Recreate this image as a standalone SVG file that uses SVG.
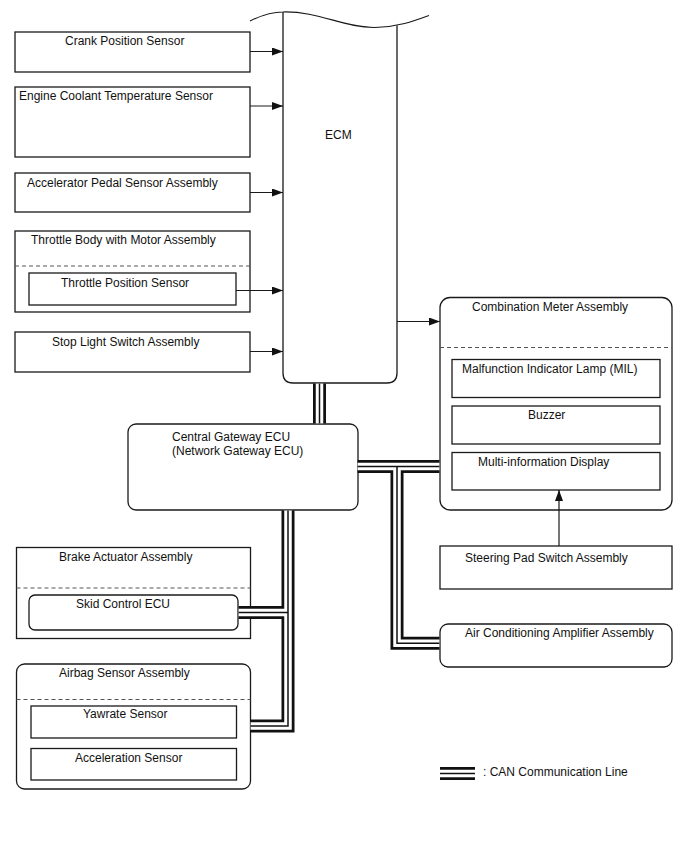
<svg xmlns="http://www.w3.org/2000/svg" width="688" height="852" viewBox="0 0 688 852">
<style>
.bx{fill:none;stroke:#1a1a1a;stroke-width:1.3}
.ds{fill:none;stroke:#555;stroke-width:1;stroke-dasharray:4,3}
.ln{fill:none;stroke:#1a1a1a;stroke-width:1.2}
.t{font-family:"Liberation Sans",Arial,sans-serif;font-size:12px;fill:#111}
.cb{fill:none;stroke:#111;stroke-width:13;stroke-linejoin:miter}
.cw{fill:none;stroke:#fff;stroke-width:7.5;stroke-linejoin:miter}
.cc{fill:none;stroke:#111;stroke-width:1.5;stroke-linejoin:miter}
</style>
<defs>
<marker id="ar" markerUnits="userSpaceOnUse" markerWidth="11" markerHeight="8" refX="11" refY="4" orient="auto">
<path d="M0,0 L11,4 L0,8 z" fill="#111"/>
</marker>
<path id="b1" d="M319.5,383.6 V423.4"/>
<path id="b2" d="M357.6,466.5 H439.4"/>
<path id="b3" d="M397,466.5 V643.3 H439.4"/>
<path id="b4" d="M288,510.6 V726 H250.6"/>
<path id="b5" d="M288,612.5 H238.6"/>
<path id="bl" d="M440,773.5 H475"/>
</defs>

<g id="ecm">
<path class="ln" d="M250,21 C262,15 272,12 283,12 C318,11 345,28 375,27.5 C398,27 414,21 429,15.5"/>
<path class="bx" d="M283,12 V373 Q283,383 293,383 H387 Q397,383 397,373 V25.5"/>
<text class="t" x="325" y="139">ECM</text>
</g>

<g id="crank">
<rect class="bx" x="15" y="32" width="235" height="40"/>
<text class="t" x="65" y="45">Crank Position Sensor</text>
</g>
<g id="coolant">
<rect class="bx" x="15" y="87" width="235" height="70"/>
<text class="t" x="19" y="100">Engine Coolant Temperature Sensor</text>
</g>
<g id="accel-pedal">
<rect class="bx" x="15" y="173" width="235" height="39"/>
<text class="t" x="27" y="187">Accelerator Pedal Sensor Assembly</text>
</g>
<g id="throttle-body">
<rect class="bx" x="15" y="231" width="235" height="81"/>
<line class="ds" x1="15" y1="266" x2="250" y2="266"/>
<text class="t" x="31" y="244">Throttle Body with Motor Assembly</text>
<g id="throttle-pos">
<rect class="bx" x="29" y="273" width="207" height="32"/>
<text class="t" x="61" y="287">Throttle Position Sensor</text>
</g>
</g>
<g id="stop-light">
<rect class="bx" x="15" y="332" width="235" height="40"/>
<text class="t" x="52" y="346">Stop Light Switch Assembly</text>
</g>

<g id="combo-meter">
<rect class="bx" x="440" y="297.5" width="232" height="212.5" rx="10"/>
<line class="ds" x1="440" y1="347.5" x2="672" y2="347.5"/>
<text class="t" x="472" y="311">Combination Meter Assembly</text>
<g id="mil">
<rect class="bx" x="452" y="359.5" width="208" height="38"/>
<text class="t" x="462" y="373">Malfunction Indicator Lamp (MIL)</text>
</g>
<g id="buzzer">
<rect class="bx" x="452" y="406" width="208" height="38"/>
<text class="t" x="528" y="419">Buzzer</text>
</g>
<g id="mid">
<rect class="bx" x="452" y="452.5" width="208" height="37.5"/>
<text class="t" x="478" y="466">Multi-information Display</text>
</g>
</g>

<g id="steering">
<rect class="bx" x="440" y="546" width="232" height="43"/>
<text class="t" x="465" y="562">Steering Pad Switch Assembly</text>
</g>
<g id="ac-amp">
<rect class="bx" x="440" y="624" width="232" height="43" rx="8"/>
<text class="t" x="465" y="637">Air Conditioning Amplifier Assembly</text>
</g>

<g id="gateway">
<rect class="bx" x="128" y="424" width="230" height="86" rx="8"/>
<text class="t" x="172" y="441">Central Gateway ECU</text>
<text class="t" x="172" y="455">(Network Gateway ECU)</text>
</g>

<g id="brake">
<rect class="bx" x="16.5" y="547.5" width="234" height="91"/>
<line class="ds" x1="16.5" y1="588" x2="250.5" y2="588"/>
<text class="t" x="59" y="561">Brake Actuator Assembly</text>
<g id="skid">
<rect class="bx" x="29" y="595" width="209" height="35" rx="6"/>
<text class="t" x="76" y="608">Skid Control ECU</text>
</g>
</g>

<g id="airbag">
<rect class="bx" x="16.5" y="664" width="234" height="125" rx="8"/>
<line class="ds" x1="16.5" y1="699.5" x2="250.5" y2="699.5"/>
<text class="t" x="59" y="677">Airbag Sensor Assembly</text>
<g id="yawrate">
<rect class="bx" x="31" y="706" width="205.5" height="32"/>
<text class="t" x="83" y="718">Yawrate Sensor</text>
</g>
<g id="accel-sensor">
<rect class="bx" x="31" y="748.5" width="205.5" height="31.5"/>
<text class="t" x="75" y="762">Acceleration Sensor</text>
</g>
</g>

<g id="connectors">
<line class="ln" x1="250" y1="51.5" x2="283" y2="51.5" marker-end="url(#ar)"/>
<line class="ln" x1="250" y1="106" x2="283" y2="106" marker-end="url(#ar)"/>
<line class="ln" x1="250" y1="192.5" x2="283" y2="192.5" marker-end="url(#ar)"/>
<line class="ln" x1="236" y1="290.5" x2="283" y2="290.5" marker-end="url(#ar)"/>
<line class="ln" x1="250" y1="351.5" x2="283" y2="351.5" marker-end="url(#ar)"/>
<line class="ln" x1="397" y1="321.5" x2="440" y2="321.5" marker-end="url(#ar)"/>
<line class="ln" x1="559" y1="546" x2="559" y2="490" marker-end="url(#ar)"/>
<g id="can-bus">
<use href="#b1" class="cb"/><use href="#b2" class="cb"/><use href="#b3" class="cb"/><use href="#b4" class="cb"/><use href="#b5" class="cb"/>
<use href="#b1" class="cw"/><use href="#b2" class="cw"/><use href="#b3" class="cw"/><use href="#b4" class="cw"/><use href="#b5" class="cw"/>
<use href="#b1" class="cc"/><use href="#b2" class="cc"/><use href="#b3" class="cc"/><use href="#b4" class="cc"/><use href="#b5" class="cc"/>
</g>
</g>

<g id="legend">
<use href="#bl" class="cb"/><use href="#bl" class="cw"/><use href="#bl" class="cc"/>
<text class="t" x="483" y="776">: CAN Communication Line</text>
</g>
</svg>
